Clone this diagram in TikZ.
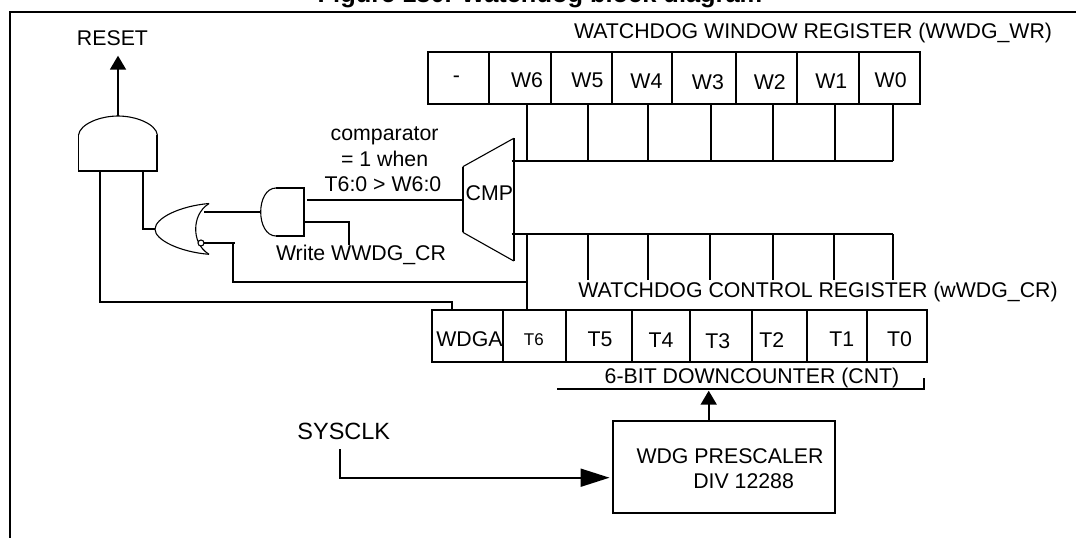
\documentclass[tikz,border=0pt]{standalone}
\usepackage{fontspec}
\setmainfont{Liberation Sans}
\usetikzlibrary{arrows.meta}
\tikzset{
  wire/.style={line width=1.9pt},
  thinwire/.style={line width=1.1pt},
  arrowwire/.style={line width=1.9pt,-{Triangle[width=16pt,length=14pt]}},
  bigarrow/.style={line width=1.9pt,-{Triangle[width=18pt,length=29pt]},shorten >=2.5pt},
  cellbox/.style={draw,line width=1.9pt,minimum height=52pt,inner sep=0pt},
  lbl/.style={font=\fontsize{21.3}{24}\selectfont,inner sep=0pt},
}
\begin{document}
\begin{tikzpicture}[x=1pt,y=-1pt]
  \useasboundingbox (0,0) rectangle (1076,538);
  \node[font=\fontsize{25.4}{28}\selectfont\bfseries,inner sep=0pt,anchor=base] (title) at (540,2.5) {Figure 180. Watchdog block diagram};
  % frame
  \draw[wire] (10,538) -- (10,11.7) -- (1076,11.7);
  % window register
  \foreach \name/\xa/\xb/\xl/\yl/\txt in {wrx/428/489/456.4/79/-,wr6/489/551/527/80/W6,wr5/551/612/587.4/80/W5,wr4/612/672.3/646.4/81/W4,wr3/672.3/736.3/707.9/82/W3,wr2/736.3/797.4/769.8/82/W2,wr1/797.4/859.3/831.3/81/W1,wr0/859.3/920.4/890.7/80/W0}{
    \node[cellbox,minimum width={(\xb-\xa)*1pt}] (\name) at ({(\xa+\xb)/2},78) {};
    \node[lbl] (l\name) at (\xl,\yl) {\txt};
  }
  \node[lbl] (wrtitle) at (813,33.3) {WATCHDOG WINDOW REGISTER (WWDG\_WR)};
  % control register
  \foreach \name/\xa/\xb/\xl/\yl/\txt in {crg/431.7/503.3/469.4/339.3/WDGA,cr6/503.3/566/533.8/339.7/{\fontsize{17}{19}\selectfont T6},cr5/566/632/600/339/T5,cr4/632/690/661/340/T4,cr3/690/751.8/717.9/341/T3,cr2/751.8/807/771.9/340/T2,cr1/807/866.9/841.8/339/T1,cr0/866.9/927.1/899.5/339/T0}{
    \node[cellbox,minimum width={(\xb-\xa)*1pt}] (\name) at ({(\xa+\xb)/2},336.3) {};
    \node[lbl] (l\name) at (\xl,\yl) {\txt};
  }
  \node[lbl] (crtitle) at (818,292.3) {WATCHDOG CONTROL REGISTER (wWDG\_CR)};
  % comparator
  \node[lbl] (cmp) at (489.4,193.3) {CMP};
  \coordinate (cmpin) at (462.8,200);
  \draw[wire] (462.8,166.7) -- (462.8,232.3);
  \draw[wire] (513.8,138.3) -- (513.8,261);
  \draw[thinwire] (462.8,166.7) -- (513.8,138.3);
  \draw[thinwire] (462.8,232.3) -- (513.8,261);
  % buses
  \coordinate (bustop) at (511.6,160.7);
  \coordinate (busbot) at (511.6,234);
  \draw[wire] (bustop) -- (893.2,160.7);
  \draw[wire] (busbot) -- (893.2,234);
  \foreach \name/\xu in {wr6/526.7,wr5/588.2,wr4/648,wr3/710.8,wr2/772.7,wr1/835,wr0/893.2}{
    \coordinate (up\name) at (\xu,160.7);
    \draw[wire] (\name.south -| up\name) -- (up\name);
  }
  \foreach \name/\xd in {t5/588.2,t4/648,t3/710,t2/772.7,t1/834.2,t0/893.2}{
    \coordinate (down\name) at (\xd,280);
    \draw[wire] (\xd,234) -- (down\name);
  }
  \coordinate (t6tap) at (526.7,234);
  \draw[wire] (t6tap) -- (cr6.north -| t6tap);
  % gates
  \draw[thinwire] (78.5,135) .. controls (80,124) and (100,116) .. (118,116) .. controls (136,116) and (156,124) .. (157.4,135);
  \draw[wire] (157.4,135) -- (157.4,171) -- (78.5,171) -- (78.5,135);
  \draw[thinwire] (209,203.5) .. controls (180,206) and (155,218) .. (155,229.3) .. controls (155,240) and (180,252) .. (209,254.3);
  \draw[thinwire] (209,203.5) .. controls (199,210) and (195.7,220) .. (195.7,229.3) .. controls (195.7,238) and (199,248) .. (209,254.3);
  \draw[thinwire,fill=white] (201,243) circle (3);
  \draw[thinwire] (276,188) .. controls (266,188) and (260.7,200) .. (260.7,212) .. controls (260.7,224) and (266,236) .. (276,236);
  \draw[wire] (276,188) -- (304,188) -- (304,236) -- (276,236);
  % connections
  \coordinate (resetout) at (118,116);
  \coordinate (resettip) at (118,55.7);
  \coordinate (wdgatap) at (452,301.7);
  \coordinate (orin) at (155,229.3);
  \coordinate (writeend) at (349,245);
  \draw[arrowwire] (resetout) -- (resettip);
  \node[lbl] (reset) at (112.5,38.3) {RESET};
  \draw[wire] (143,171) |- (orin);
  \draw[wire] (100,171) |- (wdgatap) -- (crg.north -| wdgatap);
  \draw[wire] (204,211.7) -- (260.7,211.7);
  \draw[wire] (204,243) -- (235,243);
  \draw[wire] (233.3,243) |- (t6tap |- 0,281.7);
  \draw[wire] (307.3,200) -- (cmpin);
  \draw[wire] (304,222.3) -| (writeend);
  \node[lbl] (wrlabel) at (361,255) {Write WWDG\_CR};
  \node[lbl] (cmplabela) at (384.6,136) {comparator};
  \node[lbl] (cmplabelb) at (384.6,159) {= 1 when};
  \node[lbl] (cmplabelc) at (383,184.3) {T6:0 > W6:0};
  % counter and prescaler
  \node[lbl] (cntlabel) at (752,378.3) {6-BIT DOWNCOUNTER (CNT)};
  \draw[wire] (557.2,388.7) -- (924.2,388.7) -- (924.2,378);
  \node[draw,line width=1.9pt,minimum width=222pt,minimum height=91.7pt,inner sep=0pt] (prescaler) at (724,466.9) {};
  \node[lbl] (preslabela) at (730,455.7) {WDG PRESCALER};
  \node[lbl] (preslabelb) at (743.6,480.7) {DIV 12288};
  \coordinate (cntin) at (708.7,390.7);
  \draw[arrowwire] (prescaler.north -| cntin) -- (cntin);
  \node[lbl,font=\fontsize{23.5}{26}\selectfont] (sysclk) at (343.8,431.7) {SYSCLK};
  \coordinate (clkstart) at (339.9,449);
  \draw[bigarrow] (clkstart) |- (prescaler.west |- 0,477.7);
\end{tikzpicture}
\end{document}
